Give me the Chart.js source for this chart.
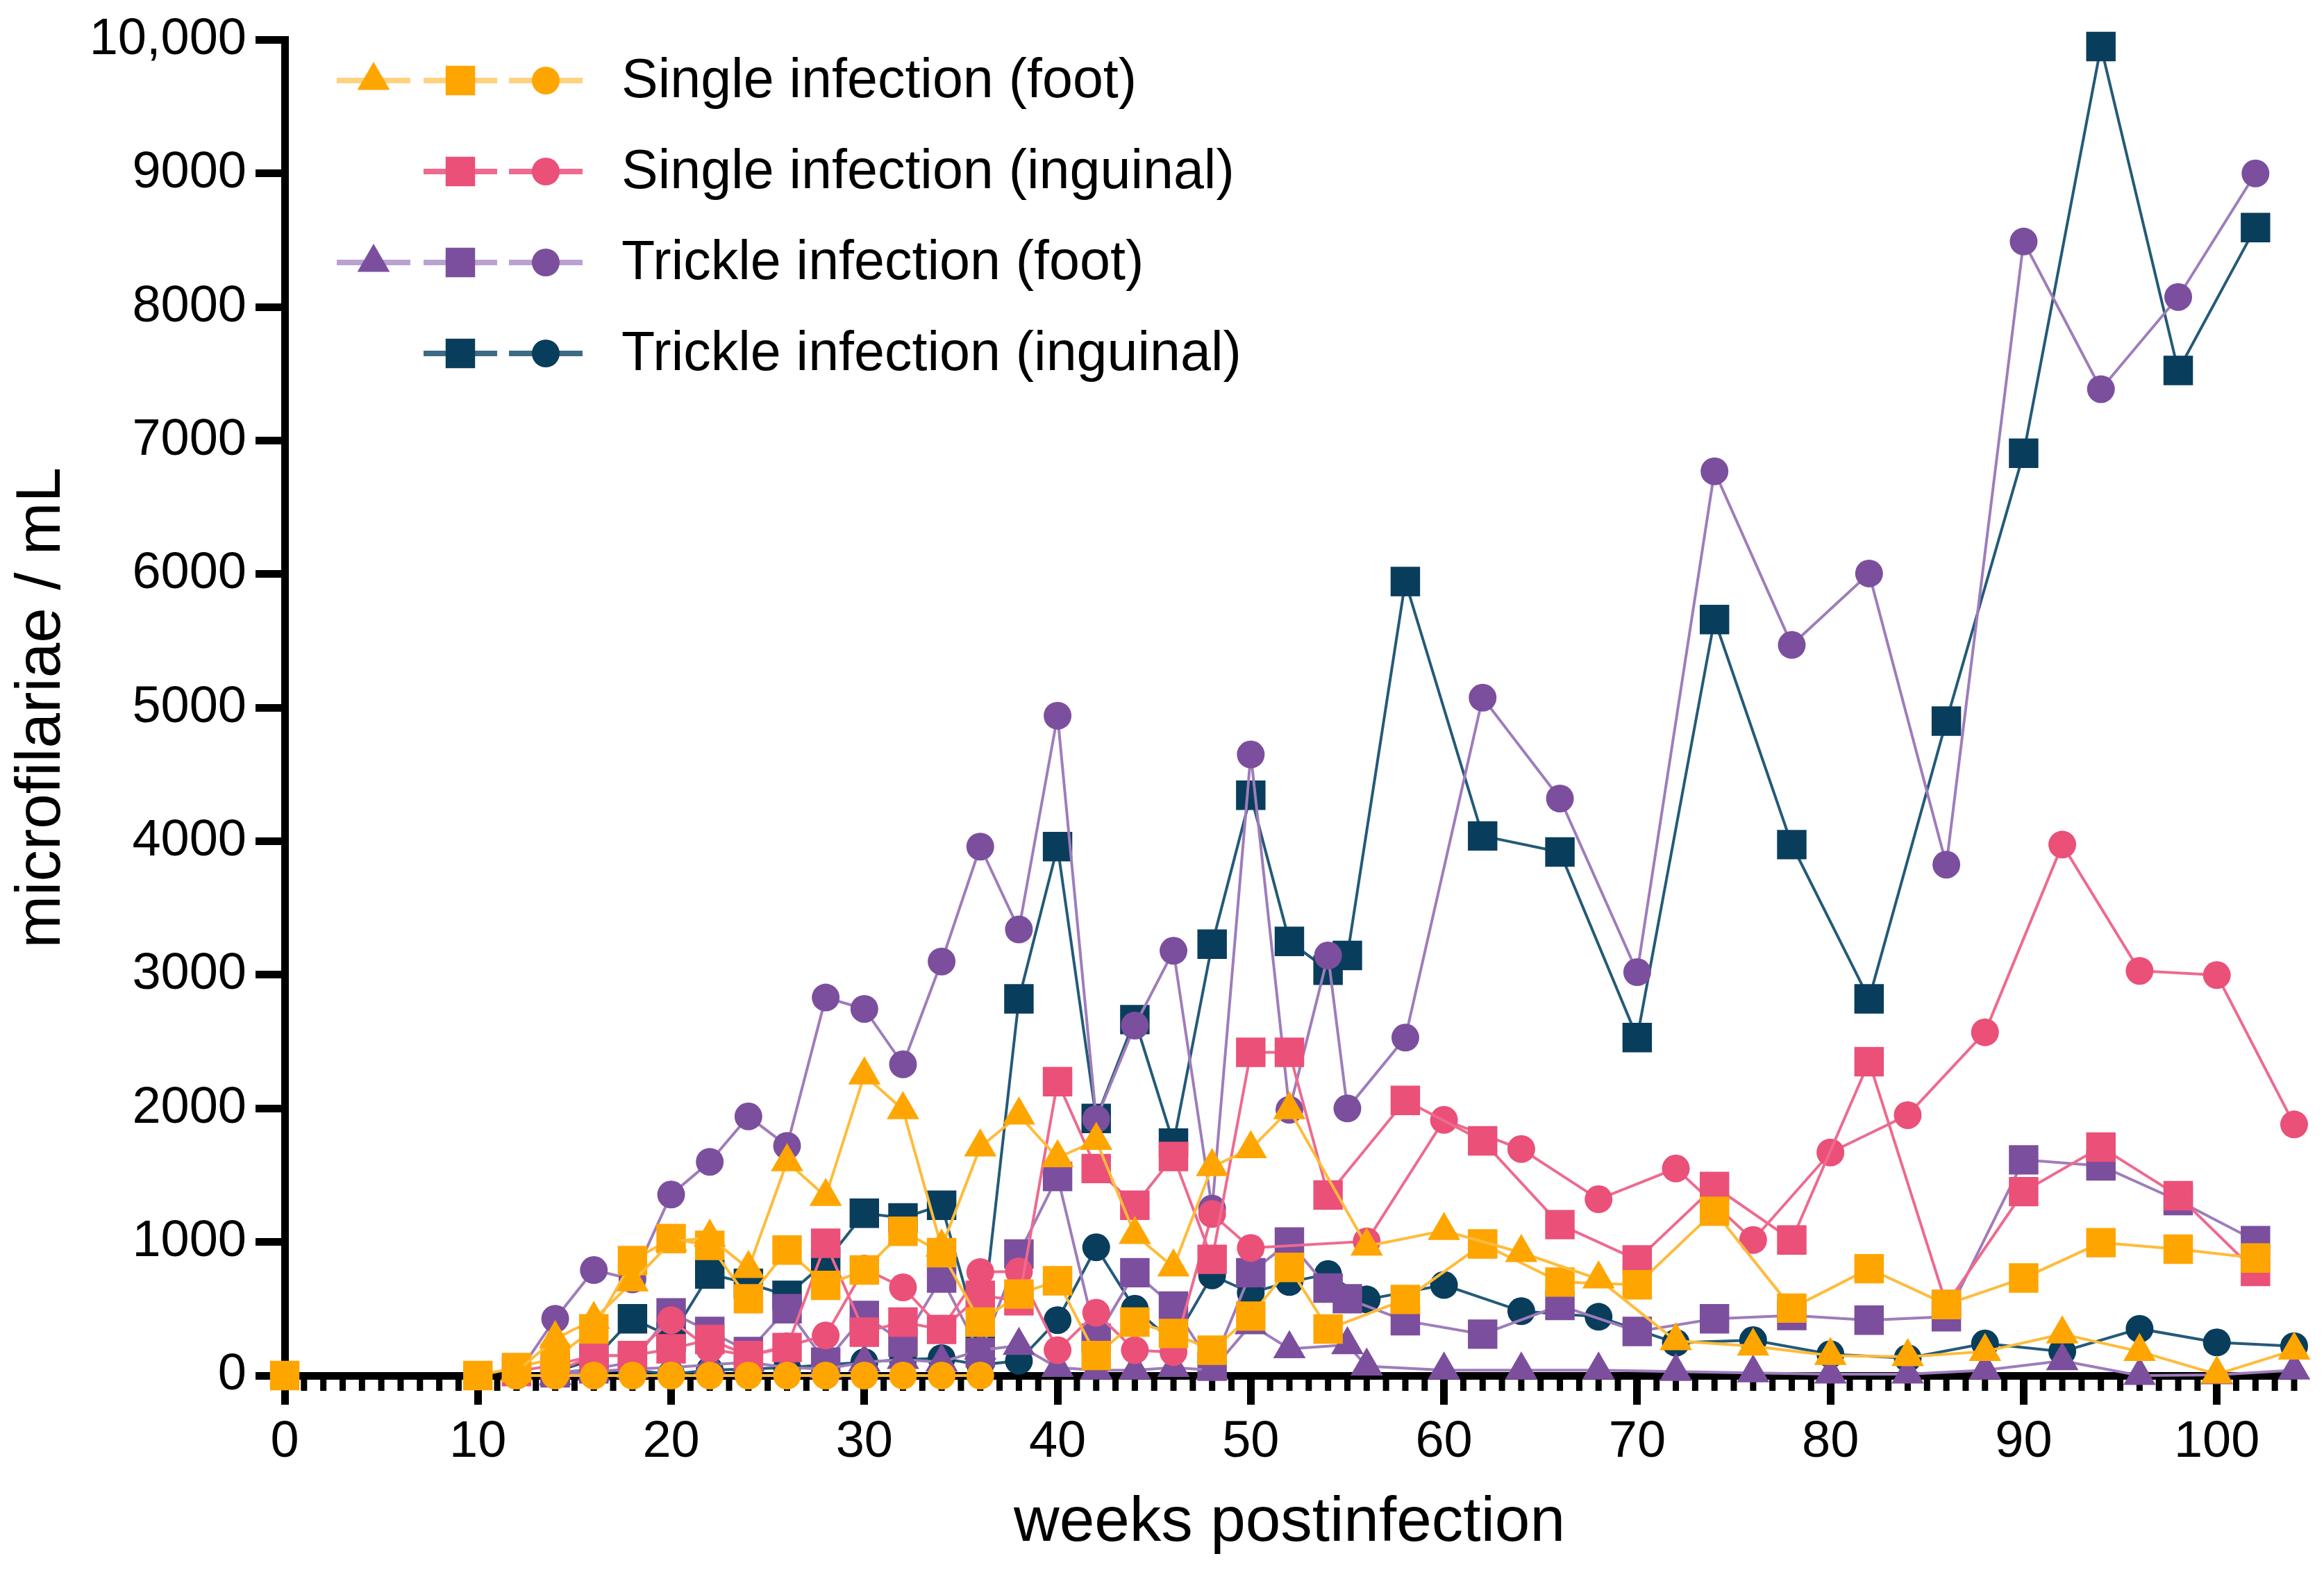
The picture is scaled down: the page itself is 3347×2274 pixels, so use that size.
<!DOCTYPE html>
<html>
<head>
<meta charset="utf-8">
<script src="https://cdn.jsdelivr.net/npm/chart.js@4.4.1/dist/chart.umd.min.js"></script>
<style>
  html, body { margin: 0; padding: 0; background: #fff; }
  #wrap { width: 3347px; height: 2274px; }
</style>
</head>
<body>
<div id="wrap"><canvas id="chart" width="3347" height="2274"></canvas></div>
<script>
// ---- data (weeks postinfection / microfilariae per mL) ----
const sfTriWeeks = [12,14,16,18,20,22,24,26,28,30,32,34,36,38,40,42,44,46,48,50,52,56,60,64,68,72,76,80,84,88,92,96,100,104];
const sfTriVals  = [30,275,420,700,1000,1035,800,1600,1340,2250,1990,960,1710,1950,1630,1760,1055,812,1564,1697,1990,968,1085,920,722,260,220,150,140,180,310,180,10,190];

const sfSqWeeks = [0,10,12,14,16,18,20,22,24,26,28,30,32,34,36,38,40,42,44,46,48,50,52,54,58,62,66,70,74,78,82,86,90,94,98,102];
const sfSqVals  = [0,0,60,130,350,860,1025,975,575,940,675,790,1080,920,400,610,710,150,400,315,190,445,810,348,570,985,700,680,1230,505,800,532,730,995,946,880];

const sfCirWeeks = [12,14,16,18,20,22,24,26,28,30,32,34,36];
const sfCirVals  = [0,0,0,0,0,0,0,0,0,0,0,0,0];

const siSqWeeks = [12,14,16,18,20,22,24,26,28,30,32,34,36,38,40,42,44,46,48,50,52,54,58,62,66,70,74,78,82,86,90,94,98,102];
const siSqVals  = [30,80,150,150,200,270,150,210,990,325,400,345,600,560,2200,1550,1275,1640,870,2420,2420,1352,2060,1757,1130,866,1415,1015,2350,532,1377,1710,1346,780];

const siCirWeeks = [14,16,18,20,22,24,26,28,30,32,34,36,38,40,42,44,46,48,50,56,60,64,68,72,76,80,84,88,92,96,100,104];
const siCirVals  = [30,150,150,415,200,150,220,300,800,660,350,775,780,190,470,190,175,1210,955,1005,1914,1696,1320,1550,1015,1670,1950,2570,3975,3030,2998,1880];

const tfTriWeeks = [14,16,18,20,22,24,26,28,30,32,34,36,38,40,42,44,46,48,50,52,55,56,60,64,68,72,76,80,84,88,92,96,100,104];
const tfTriVals  = [0,30,50,60,80,100,60,50,100,120,100,190,225,60,40,40,60,40,380,200,230,70,40,40,40,30,20,10,10,40,110,0,5,40];

const tfSqWeeks = [14,16,18,20,22,24,26,28,30,32,34,36,38,40,42,44,46,48,50,52,54,55,58,62,66,70,74,78,82,86,90,94,98,102];
const tfSqVals  = [20,50,100,470,330,180,500,100,450,250,730,170,910,1490,280,770,520,70,770,1000,655,575,410,310,525,330,425,450,415,440,1615,1570,1310,1010];

const tfCirWeeks = [12,14,16,18,20,22,24,26,28,30,32,34,36,38,40,42,44,46,48,50,52,54,55,58,62,66,70,74,78,82,86,90,94,98,102];
const tfCirVals  = [0,425,790,720,1355,1600,1940,1720,2830,2745,2330,3100,3960,3340,4940,1920,2620,3180,1250,4650,1990,3145,2000,2530,5075,4320,3020,6770,5470,6005,3825,8490,7385,8075,9000];

const tiSqWeeks = [14,16,18,20,22,24,26,28,30,32,34,36,38,40,42,44,46,48,50,52,54,55,58,62,66,70,74,78,82,86,90,94,98,102];
const tiSqVals  = [30,120,425,290,760,690,600,850,1215,1180,1275,250,2820,3960,1925,2665,1740,3230,4345,3250,3035,3145,5945,4040,3920,2530,5660,3975,2820,4900,6905,9950,7525,8595];

const tiCirWeeks = [14,16,18,20,22,24,26,28,30,32,34,36,38,40,42,44,46,48,50,52,54,56,60,64,68,72,76,80,84,88,92,96,100,104];
const tiCirVals  = [20,30,40,10,40,50,60,80,100,120,130,80,110,415,960,500,250,750,620,700,760,570,678,482,440,245,265,160,130,240,180,350,248,220];

const xTicks = [0,10,20,30,40,50,60,70,80,90,100];
const yTicks = [0,1000,2000,3000,4000,5000,6000,7000,8000,9000,10000];
const yTickLabels = ['0','1000','2000','3000','4000','5000','6000','7000','8000','9000','10,000'];

const legendLabels = ['Single infection (foot)', 'Single infection (inguinal)', 'Trickle infection (foot)', 'Trickle infection (inguinal)'];

// ---- styling ----
const FONT = "'Liberation Sans', Arial, sans-serif";
const ORANGE = '#FFA500', ORANGE_LINE = '#FFBB3A';
const PINK = '#EA5078', PINK_LINE = '#EE6A8E';
const PURPLE = '#7B4F9D', PURPLE_LINE = '#9E7DBA';
const TEAL = '#093D5C', TEAL_LINE = '#245A78';
const R = { triangle: 27, rect: 30, circle: 20 };

function pts(weeks, vals) {
  return weeks.map((w, i) => ({ x: w, y: vals[i] }));
}

function series(label, weeks, vals, color, lineColor, style) {
  return {
    label: label,
    data: pts(weeks, vals),
    showLine: true,
    borderColor: lineColor,
    borderWidth: 4,
    backgroundColor: color,
    pointBackgroundColor: color,
    pointBorderColor: color,
    pointBorderWidth: 0,
    pointStyle: style,
    pointRadius: R[style],
    pointHoverRadius: R[style],
    // baseline at week 0 is not joined to the first follow-up point
    segment: { borderColor: c => (c.p0.parsed.x === 0 ? 'rgba(0,0,0,0)' : undefined) },
    clip: false
  };
}

// minor ticks every week on the x axis
const minorTicks = {
  id: 'minorTicks',
  beforeDatasetsDraw(chart) {
    const sx = chart.scales.x, ctx = chart.ctx;
    const y0 = chart.chartArea.bottom;
    ctx.save();
    ctx.fillStyle = '#000';
    for (let w = 1; w < 104.5; w++) {
      if (w % 10 === 0) continue;
      const px = sx.getPixelForValue(w);
      ctx.fillRect(px - 4.5, y0, 9, 22);
    }
    ctx.restore();
  }
};

// legend with several markers per group
const groupLegend = {
  id: 'groupLegend',
  afterDraw(chart) {
    const ctx = chart.ctx;
    const rows = [
      { y: 116, color: ORANGE, line: '#FFD27F', styles: ['triangle', 'rect', 'circle'] },
      { y: 247, color: PINK, line: PINK_LINE, styles: [null, 'rect', 'circle'] },
      { y: 378, color: PURPLE, line: '#B9A2CF', styles: ['triangle', 'rect', 'circle'] },
      { y: 509, color: TEAL, line: '#3D6B85', styles: [null, 'rect', 'circle'] }
    ];
    const cx = [538, 663, 786];
    ctx.save();
    rows.forEach((row, i) => {
      row.styles.forEach((st, j) => {
        if (!st) return;
        ctx.fillStyle = row.line;
        ctx.fillRect(cx[j] - 53, row.y - 4, 106, 8);
        ctx.fillStyle = row.color;
        Chart.helpers.drawPoint(ctx, { pointStyle: st, radius: R[st], rotation: 0, borderWidth: 0 }, cx[j], row.y);
      });
      ctx.fillStyle = '#000';
      ctx.font = '79px ' + FONT;
      ctx.textBaseline = 'middle';
      ctx.textAlign = 'left';
      ctx.fillText(legendLabels[i], 895, row.y + 2);
    });
    ctx.restore();
  }
};

new Chart(document.getElementById('chart').getContext('2d'), {
  type: 'scatter',
  data: {
    datasets: [
      series('Single foot triangle', sfTriWeeks, sfTriVals, ORANGE, ORANGE_LINE, 'triangle'),
      series('Single foot square', sfSqWeeks, sfSqVals, ORANGE, ORANGE_LINE, 'rect'),
      series('Single foot circle', sfCirWeeks, sfCirVals, ORANGE, ORANGE_LINE, 'circle'),
      series('Single inguinal square', siSqWeeks, siSqVals, PINK, PINK_LINE, 'rect'),
      series('Single inguinal circle', siCirWeeks, siCirVals, PINK, PINK_LINE, 'circle'),
      series('Trickle foot triangle', tfTriWeeks, tfTriVals, PURPLE, PURPLE_LINE, 'triangle'),
      series('Trickle foot square', tfSqWeeks, tfSqVals, PURPLE, PURPLE_LINE, 'rect'),
      series('Trickle foot circle', tfCirWeeks, tfCirVals, PURPLE, PURPLE_LINE, 'circle'),
      series('Trickle inguinal square', tiSqWeeks, tiSqVals, TEAL, TEAL_LINE, 'rect'),
      series('Trickle inguinal circle', tiCirWeeks, tiCirVals, TEAL, TEAL_LINE, 'circle')
    ]
  },
  options: {
    responsive: false,
    animation: false,
    devicePixelRatio: 1,
    layout: { padding: { top: 51, right: 43, left: 0, bottom: 0 } },
    plugins: { legend: { display: false }, tooltip: { enabled: false } },
    scales: {
      x: {
        type: 'linear',
        min: 0,
        max: 104,
        afterFit(s) { s.height = 293; },
        afterBuildTicks(s) { s.ticks = xTicks.map(v => ({ value: v })); },
        ticks: { color: '#000', font: { family: FONT, size: 74 }, padding: 10, maxRotation: 0, autoSkip: false },
        grid: { drawOnChartArea: false, drawTicks: true, tickLength: 42, tickWidth: 11, tickColor: '#000' },
        border: { display: true, color: '#000', width: 11 },
        title: { display: true, text: 'weeks postinfection', color: '#000', font: { family: FONT, size: 91 }, padding: { top: 0, bottom: 25 } }
      },
      y: {
        type: 'linear',
        min: 0,
        max: 10000,
        afterFit(s) { s.width = 410; },
        afterBuildTicks(s) { s.ticks = yTicks.map(v => ({ value: v })); },
        ticks: {
          color: '#000', font: { family: FONT, size: 74 }, padding: 13, autoSkip: false,
          callback: v => yTickLabels[yTicks.indexOf(v)]
        },
        grid: { drawOnChartArea: false, drawTicks: true, tickLength: 42, tickWidth: 11, tickColor: '#000' },
        border: { display: true, color: '#000', width: 11 },
        title: { display: true, text: 'microfilariae / mL', color: '#000', font: { family: FONT, size: 91 }, padding: { top: 6, bottom: 0 } }
      }
    }
  },
  plugins: [minorTicks, groupLegend]
});
</script>
</body>
</html>
